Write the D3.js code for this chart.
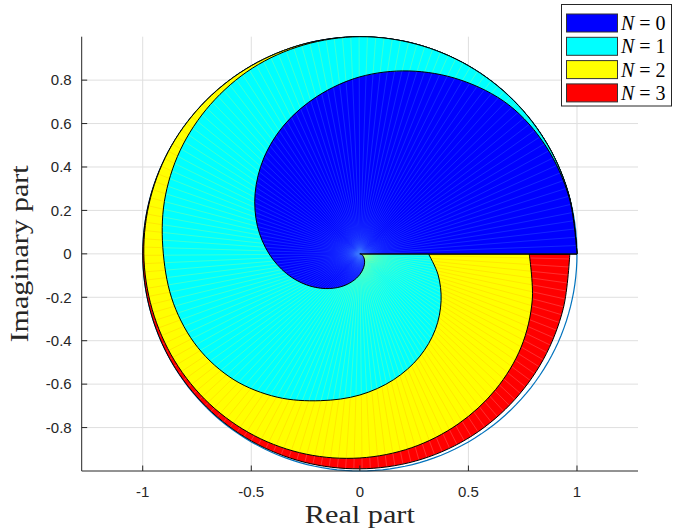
<!DOCTYPE html>
<html><head><meta charset="utf-8">
<script src="https://cdn.jsdelivr.net/npm/d3@7"></script>
<style>body{margin:0;background:#fff}svg{display:block}</style>
</head><body>
<svg id="c" width="673" height="528"></svg>
<script>
// sample angles (degrees, counter-clockwise from +real axis)
const angleDeg = [0,15,30,45,60,75,90,105,120,135,150,165,180,195,210,225,240,255,270,285,300,315,330,345,360];
// radius of each curve at those angles
const rN0 = [1.0,0.998,0.99,0.97,0.925,0.872,0.815,0.752,0.69,0.625,0.557,0.488,0.418,0.35,0.285,0.226,0.175,0.131,0.095,0.066,0.044,0.027,0.015,0.006,0.0];
const rN1 = [1.0,1.0,1.0,1.0,1.0,1.0,1.0,0.996,0.988,0.973,0.955,0.932,0.905,0.888,0.862,0.82,0.762,0.7,0.65,0.6,0.548,0.492,0.432,0.373,0.316];
const rN2 = [1.0,1.0,1.0,1.0,1.0,1.0,1.0,1.0,1.0,1.0,1.0,0.998,0.995,0.99,0.985,0.978,0.968,0.955,0.94,0.924,0.905,0.884,0.858,0.822,0.78];
const rN3 = [1.0,1.0,1.0,1.0,1.0,1.0,1.0,1.0,1.0,1.0,1.0,1.0,1.0,1.0,1.0,0.998,0.996,0.993,0.99,0.988,0.985,0.98,0.975,0.97,0.967];
const seriesLabels = ["0","1","2","3"];
const xTicks = [-1,-0.5,0,0.5,1];
const yTicks = [-0.8,-0.6,-0.4,-0.2,0,0.2,0.4,0.6,0.8];
const xTickLabels = ["-1","-0.5","0","0.5","1"];
const yTickLabels = ["-0.8","-0.6","-0.4","-0.2","0","0.2","0.4","0.6","0.8"];

const fills = ["#0000ff","#00ffff","#ffff00","#ff0000"];
const rayColors = ["#3f7bff","#c8ff70","#ffb400","#ff9a9a"];
const radii = [rN0,rN1,rN2,rN3];

const svg = d3.select("#c");
const L=81.7, R=638, T=36.7, B=471;
const x = d3.scaleLinear().domain([-1.281,1.281]).range([L,R]);
const y = d3.scaleLinear().domain([-1,1]).range([B,T]);
const axisCol = "#262626";

// grid
const g = svg.append("g");
g.selectAll(".vg").data(xTicks).join("line")
  .attr("x1",d=>x(d)).attr("x2",d=>x(d)).attr("y1",T).attr("y2",B)
  .attr("stroke","#dfdfdf").attr("stroke-width",1);
g.selectAll(".hg").data(yTicks).join("line")
  .attr("y1",d=>y(d)).attr("y2",d=>y(d)).attr("x1",L).attr("x2",R)
  .attr("stroke","#dfdfdf").attr("stroke-width",1);

// unit circle
const circ = d3.range(0,361,2).map(a=>[Math.cos(a*Math.PI/180),Math.sin(a*Math.PI/180)]);
svg.append("path").attr("d", d3.line().x(d=>x(d[0])).y(d=>y(d[1]))(circ))
  .attr("fill","none").attr("stroke","#0072BD").attr("stroke-width",1.2);

const line = d3.line().x(d=>x(d[0])).y(d=>y(d[1])).curve(d3.curveCatmullRom.alpha(0.5));
function regionPath(rs){
  const pts = angleDeg.map((a,i)=>[rs[i]*Math.cos(a*Math.PI/180), rs[i]*Math.sin(a*Math.PI/180)]);
  const s = line(pts);
  return "M"+x(0)+","+y(0)+"L"+s.slice(1)+"Z";
}
const defs = svg.append("defs");
const order = [3,2,1,0];
order.forEach(k=>{
  const d = regionPath(radii[k]);
  defs.append("clipPath").attr("id","clip"+k).append("path").attr("d",d);
  svg.append("path").attr("d",d).attr("fill",fills[k]).attr("stroke","none");
  const rays = svg.append("g").attr("clip-path","url(#clip"+k+")");
  rays.selectAll("line").data(d3.range(0,360,2.2)).join("line")
    .attr("x1",x(0)).attr("y1",y(0))
    .attr("x2",a=>x(1.1*Math.cos(a*Math.PI/180))).attr("y2",a=>y(1.1*Math.sin(a*Math.PI/180)))
    .attr("stroke",rayColors[k]).attr("stroke-width",0.6).attr("stroke-opacity",0.5);
  svg.append("path").attr("d",d).attr("fill","none").attr("stroke","#000").attr("stroke-width",1);
});

// axes
svg.append("line").attr("x1",L).attr("x2",R).attr("y1",B).attr("y2",B).attr("stroke",axisCol).attr("stroke-width",1);
svg.append("line").attr("x1",L).attr("x2",L).attr("y1",T).attr("y2",B).attr("stroke",axisCol).attr("stroke-width",1);
svg.selectAll(".xt").data(xTicks).join("line").attr("x1",d=>x(d)).attr("x2",d=>x(d)).attr("y1",B).attr("y2",B-5.5).attr("stroke",axisCol);
svg.selectAll(".yt").data(yTicks).join("line").attr("y1",d=>y(d)).attr("y2",d=>y(d)).attr("x1",L).attr("x2",L+5.5).attr("stroke",axisCol);
svg.selectAll(".xl").data(xTicks).join("text").attr("x",d=>x(d)).attr("y",B+26)
  .attr("text-anchor","middle").attr("font-family","Liberation Sans, Arial, sans-serif").attr("font-size",15).attr("fill",axisCol)
  .text((d,i)=>xTickLabels[i]);
svg.selectAll(".yl").data(yTicks).join("text").attr("x",L-10).attr("y",d=>y(d)+5.3)
  .attr("text-anchor","end").attr("font-family","Liberation Sans, Arial, sans-serif").attr("font-size",15).attr("fill",axisCol)
  .text((d,i)=>yTickLabels[i]);

// axis titles
svg.append("text").attr("x",x(0)).attr("y",523).attr("text-anchor","middle")
  .attr("font-family","Liberation Serif, serif").attr("font-size",25).attr("fill","#262626")
  .attr("textLength",110).attr("lengthAdjust","spacingAndGlyphs").text("Real part");
svg.append("text").attr("transform","translate(28,"+y(0)+") rotate(-90)").attr("text-anchor","middle")
  .attr("font-family","Liberation Serif, serif").attr("font-size",25).attr("fill","#262626")
  .attr("textLength",177).attr("lengthAdjust","spacingAndGlyphs").text("Imaginary part");

// legend
const lg = svg.append("g");
lg.append("rect").attr("x",561.5).attr("y",4.5).attr("width",110).attr("height",101.5)
  .attr("fill","#fff").attr("stroke","#262626").attr("stroke-width",1);
seriesLabels.forEach((lab,i)=>{
  const cy = 23 + i*23.3;
  lg.append("rect").attr("x",566.5).attr("y",cy-9).attr("width",51).attr("height",18)
    .attr("fill",fills[i]).attr("stroke","#333").attr("stroke-width",1);
  const t = lg.append("text").attr("x",621).attr("y",cy+7).attr("font-family","Liberation Serif, serif").attr("font-size",20).attr("fill","#000");
  t.append("tspan").attr("font-style","italic").text("N");
  t.append("tspan").text(" = "+lab);
});
</script>
</body></html>
